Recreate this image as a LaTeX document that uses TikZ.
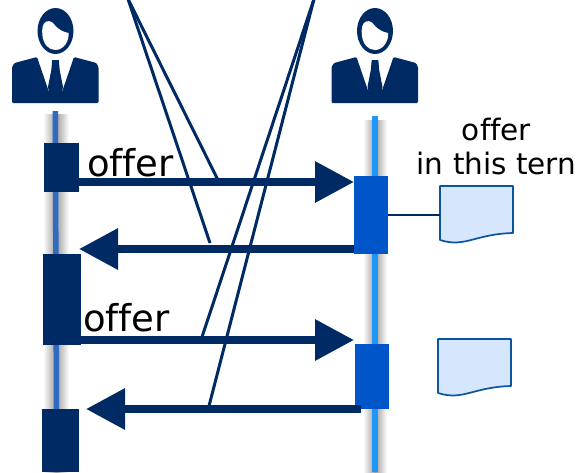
\documentclass[tikz,border=0pt]{standalone}
\usepackage{fontspec}
\setmainfont{DejaVu Sans}
\usetikzlibrary{arrows.meta}
\definecolor{navy}{HTML}{002A63}
\definecolor{midblue}{HTML}{0055C8}
\definecolor{lifeL}{HTML}{2F6BBE}
\definecolor{lifeR}{HTML}{1E96FA}
\definecolor{docfill}{HTML}{D6E6FC}
\definecolor{docline}{HTML}{0B559E}
\newcommand{\off}{of\kern0ptfer}
\tikzset{
  barL/.style={fill=navy,draw=none,inner sep=0pt,outer sep=0pt,minimum width=#1},
  barL/.default=35pt,
  barR/.style={fill=midblue,draw=none,inner sep=0pt,outer sep=0pt,minimum width=34pt},
  msg/.style={draw=navy,line width=8pt,-{Triangle[length=39pt,width=39.5pt,fill=navy]}},
  leader/.style={draw=navy,line width=3pt},
  lbl/.style={font=\fontsize{37}{39}\selectfont,inner sep=0pt,anchor=base west,text=black},
  note/.style={font=\fontsize{29.5}{34}\selectfont,align=center,inner sep=0pt,text=black},
  docu/.style={fill=docfill,draw=docline,line width=1.7pt,line join=round},
  shade/.style={left color=white,right color=white,middle color=black!38,draw=none},
  link/.style={draw=navy,line width=1.7pt},
}
\newcommand{\person}[2]{%
 \begin{scope}[shift={(#1,#2)}]
  \fill[navy,rounded corners=1.2pt] (-43.5,62) -- (-43.5,26) -- (-41,22) -- (-18.5,16) -- (-6.5,51) -- (6.5,51) -- (18.5,16) -- (41,22) -- (43,26) -- (43,62) -- cycle;
  \fill[navy] (-3.3,19) -- (3.3,19) -- (4.2,29) -- (7.5,46) -- (6.5,51) -- (-6.5,51) -- (-7.5,46) -- (-4.2,29) -- cycle;
  \fill[navy] (0,-10) ellipse (18pt and 23pt);
  \fill[white] (-13,-5) .. controls (-14,-12) and (-13,-18) .. (-9,-19.5) .. controls (-5,-21) and (-2,-18) .. (0,-15) .. controls (4,-11) and (8,-9) .. (13,-8) .. controls (14,0) and (8,9) .. (0,9) .. controls (-7,9) and (-12,3) .. (-13,-5) -- cycle;
 \end{scope}}
\begin{document}
\begin{tikzpicture}[x=1pt,y=-1pt]
\useasboundingbox (0,0) rectangle (578,472);
% lifelines
\shade[shade] (43,114) rectangle (69,472);
\shade[shade] (363,120) rectangle (387,472);
\fill[lifeL] (52.5,111) -- (58,111) -- (59.5,472) -- (54,472) -- cycle;
\fill[lifeR] (372,116) rectangle (378,472);
% persons
\person{55.5}{41}
\person{375}{41}
% activation bars
\node[barL=35pt,minimum height=49pt] (a1) at (61.5,167.5) {};
\node[barL=38pt,minimum height=91pt] (a2) at (62,299.5) {};
\node[barL=37pt,minimum height=63pt] (a3) at (60.5,440.5) {};
\node[barR,minimum height=78pt] (b1) at (371,215) {};
\node[barR,minimum height=65pt] (b2) at (372,376.5) {};
% messages
\coordinate (m1s) at (a1.east|-0,182);
\coordinate (m1e) at (b1.west|-0,182);
\draw[msg] (m1s) -- (m1e);
\coordinate (m2s) at (b1.west|-0,249);
\coordinate (m2e) at (79,249);
\draw[msg] (m2s) -- (m2e);
\coordinate (m3s) at (a2.east|-0,340);
\coordinate (m3e) at (354,340);
\draw[msg] (m3s) -- (m3e);
\coordinate (m4s) at (361,409);
\coordinate (m4e) at (86,409);
\draw[msg] (m4s) -- (m4e);
% leaders
\coordinate (t1) at (128,-1);
\coordinate (t2) at (314,-1);
\coordinate (l1) at (218,180);
\coordinate (l2) at (210,243);
\coordinate (l3) at (202,337);
\coordinate (l4) at (209,406);
\draw[leader] (t1) -- (l1);
\draw[leader] (t1) -- (l2);
\draw[leader] (t2) -- (l3);
\draw[leader] (t2) -- (l4);
% labels
\node[lbl] (o1) at (87,176) {\off};
\node[lbl] (o2) at (83,331) {\off};
\node[note,anchor=base] (n1) at (496.5,174) {\off\\in this tern};
% documents
\draw[docu] (440,186) -- (513,186) -- (513,233) .. controls (475,234) and (465,248) .. (440,240) -- cycle;
\coordinate (d1) at (440,215);
\draw[link] (b1.east|-d1) -- (d1);
\draw[docu] (438,339) -- (511,339) -- (511,386) .. controls (473,387) and (463,401) .. (438,393) -- cycle;
\end{tikzpicture}
\end{document}
